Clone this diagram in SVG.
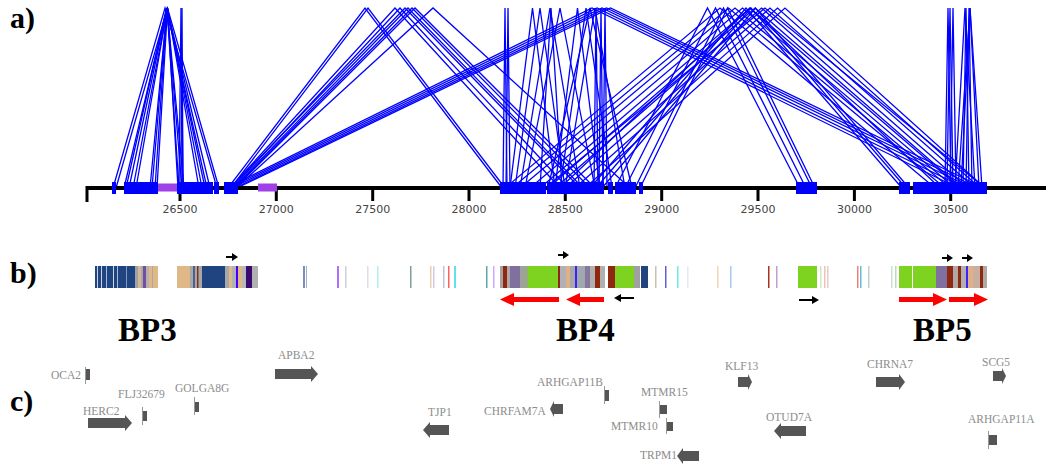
<svg xmlns="http://www.w3.org/2000/svg" width="1050" height="471" viewBox="0 0 1050 471">
<style>
.lbl{font-family:"Liberation Serif","Times New Roman",serif;font-weight:bold;font-size:30px;fill:#000}
.bp{font-family:"Liberation Serif","Times New Roman",serif;font-weight:bold;font-size:33px;fill:#000}
.tk{font-family:"DejaVu Sans",sans-serif;font-size:11px;fill:#444;text-anchor:middle}
.lk path{fill:none;stroke:#0000ff;stroke-width:1.3}
.blk{fill:#0000ff}
.pur{fill:#a040e8}
.gene{fill:#555}
.gl{stroke:#999;stroke-width:1}
.gt{font-family:"Liberation Serif","Times New Roman",serif;font-size:11.5px;fill:#8c8c8c}
.red{fill:#ff0000}
.blkarr{fill:#000}
</style>

<text class="lbl" x="10" y="28">a)</text>
<text class="lbl" x="10" y="283">b)</text>
<text class="lbl" x="10" y="411">c)</text>

<g id="links" class="lk">
<path d="M113 188L165 8L217 188"/>
<path d="M116 188L167.5 8L219 188"/>
<path d="M124 188L167 8L210 188"/>
<path d="M126 188L166.5 8L207 188"/>
<path d="M129 188L167 8L205 188"/>
<path d="M133 188L167.5 8L202 188"/>
<path d="M136 188L167.5 8L199 188"/>
<path d="M150 188L167 8L184 188"/>
<path d="M152 188L167 8L182 188"/>
<path d="M155 188L167 8L179 188"/>
<path d="M157 188L167.5 8L178 188"/>
<path d="M179 188L181 8L183 188"/>
<path d="M181 188L182 8L183 188"/>
<path d="M228 188L365 8L502 188"/>
<path d="M231 188L368 8L505 188"/>
<path d="M230 188L395 8L560 188"/>
<path d="M232 188L400 8L568 188"/>
<path d="M230 188L405 8L580 188"/>
<path d="M233 188L408 8L583 188"/>
<path d="M234 188L412 8L590 188"/>
<path d="M235 188L415 8L595 188"/>
<path d="M236 188L433 8L630 188"/>
<path d="M226 188L592 8L958 188"/>
<path d="M229 188L597 8L965 188"/>
<path d="M232 188L602 8L972 188"/>
<path d="M235 188L606.5 8L978 188"/>
<path d="M237 188L610.5 8L984 188"/>
<path d="M505 188L720 8L935 188"/>
<path d="M512 188L728.5 8L945 188"/>
<path d="M520 188L735 8L950 188"/>
<path d="M530 188L742.5 8L955 188"/>
<path d="M540 188L750 8L960 188"/>
<path d="M548 188L755 8L962 188"/>
<path d="M555 188L761.5 8L968 188"/>
<path d="M565 188L770 8L975 188"/>
<path d="M575 188L777.5 8L980 188"/>
<path d="M585 188L785 8L985 188"/>
<path d="M545 188L765 8L985 188"/>
<path d="M560 188L750 8L940 188"/>
<path d="M590 188L746 8L902 188"/>
<path d="M596 188L751 8L906 188"/>
<path d="M602 188L755.5 8L909 188"/>
<path d="M615 188L707.5 8L800 188"/>
<path d="M625 188L715.5 8L806 188"/>
<path d="M635 188L723.5 8L812 188"/>
<path d="M640 188L727.5 8L815 188"/>
<path d="M503 188L505 8L507 188"/>
<path d="M506 188L508 8L510 188"/>
<path d="M510 188L532.5 8L555 188"/>
<path d="M515 188L540 8L565 188"/>
<path d="M520 188L550 8L580 188"/>
<path d="M525 188L560 8L595 188"/>
<path d="M540 188L551 8L562 188"/>
<path d="M555 188L577.5 8L600 188"/>
<path d="M560 188L586 8L612 188"/>
<path d="M565 188L595 8L625 188"/>
<path d="M594 188L596 8L598 188"/>
<path d="M599 188L601 8L603 188"/>
<path d="M603 188L605 8L607 188"/>
<path d="M548 188L590 8L632 188"/>
<path d="M945 188L948 8L951 188"/>
<path d="M947 188L950 8L953 188"/>
<path d="M950 188L953 8L956 188"/>
<path d="M955 188L965 8L975 188"/>
<path d="M958 188L970 8L982 188"/>
<path d="M961 188L970 8L979 188"/>
<path d="M963 188L966 8L969 188"/>
<path d="M966 188L969 8L972 188"/>
</g>

<g id="axis">
<path d="M87 188H1046" stroke="#000" stroke-width="4" fill="none"/>
<path d="M87 186V202M180 188V201M276.3 188V201M372.7 188V201M469 188V201M565.3 188V201M661.7 188V201M758 188V201M854.4 188V201M950.7 188V201" stroke="#000" stroke-width="3" fill="none"/>
<text class="tk" x="180" y="213">26500</text>
<text class="tk" x="276.3" y="213">27000</text>
<text class="tk" x="372.7" y="213">27500</text>
<text class="tk" x="469" y="213">28000</text>
<text class="tk" x="565.3" y="213">28500</text>
<text class="tk" x="661.7" y="213">29000</text>
<text class="tk" x="758" y="213">29500</text>
<text class="tk" x="854.4" y="213">30000</text>
<text class="tk" x="950.7" y="213">30500</text>
</g>

<g id="blocks">
<rect class="blk" x="112" y="182" width="4" height="12"/>
<rect class="blk" x="124" y="182" width="34" height="12"/>
<rect class="pur" x="158" y="183.5" width="19" height="8"/>
<rect class="blk" x="177" y="182" width="31" height="12"/>
<rect class="blk" x="208" y="182" width="5" height="12"/>
<rect class="blk" x="214" y="182" width="5" height="12"/>
<rect class="blk" x="224" y="182" width="14" height="12"/>
<rect class="pur" x="258" y="183.5" width="19" height="8"/>
<rect class="blk" x="500" y="182" width="46" height="12"/>
<rect class="blk" x="547" y="182" width="57" height="12"/>
<rect class="blk" x="608" y="182" width="5" height="12"/>
<rect class="blk" x="615" y="182" width="21" height="12"/>
<rect class="blk" x="639" y="182" width="4" height="12"/>
<rect class="blk" x="796" y="182" width="21" height="12"/>
<rect class="blk" x="899" y="182" width="11" height="12"/>
<rect class="blk" x="913" y="182" width="74" height="12"/>
</g>

<g id="bars">
<rect x="95" y="266" width="40" height="22" fill="#1f4480"/>
<rect x="97" y="266" width="1" height="22" fill="#c8d4e8"/>
<rect x="101" y="266" width="1" height="22" fill="#c8d4e8"/>
<rect x="106" y="266" width="1" height="22" fill="#a8b8d8"/>
<rect x="113" y="266" width="1" height="22" fill="#c8d4e8"/>
<rect x="117" y="266" width="1" height="22" fill="#a8b8d8"/>
<rect x="126" y="266" width="1" height="22" fill="#8098c0"/>
<rect x="135" y="266" width="3" height="22" fill="#a0a0a8"/>
<rect x="138" y="266" width="3" height="22" fill="#d8b890"/>
<rect x="141" y="266" width="2" height="22" fill="#a8a8a8"/>
<rect x="143" y="266" width="3" height="22" fill="#7050a0"/>
<rect x="146" y="266" width="3" height="22" fill="#b8b0b0"/>
<rect x="149" y="266" width="9" height="22" fill="#e0b888"/>
<rect x="152" y="266" width="1" height="22" fill="#b0a8a0"/>

<rect x="177" y="266" width="13" height="22" fill="#e0b888"/>
<rect x="190" y="266" width="12" height="22" fill="#a8a8a8"/>
<rect x="193" y="266" width="2" height="22" fill="#4a6090"/>
<rect x="197" y="266" width="1.5" height="22" fill="#8a2a20"/>
<rect x="202" y="266" width="23" height="22" fill="#1f4480"/>
<rect x="225" y="266" width="4" height="22" fill="#a8a8a8"/>
<rect x="229" y="266" width="3" height="22" fill="#e0b888"/>
<rect x="232" y="266" width="4" height="22" fill="#b0b0b8"/>
<rect x="236" y="266" width="2" height="22" fill="#4400ff"/>
<rect x="238" y="266" width="4" height="22" fill="#e0b888"/>
<rect x="242" y="266" width="4" height="22" fill="#b8b8b8"/>
<rect x="246" y="266" width="6" height="22" fill="#3a0a70"/>
<rect x="252" y="266" width="6" height="22" fill="#b0b0b0"/>

<rect x="303" y="266" width="2" height="22" fill="#7890b8"/>
<rect x="306" y="266" width="1" height="22" fill="#a0b0c8"/>
<rect x="337" y="266" width="2" height="22" fill="#b070ff"/>
<rect x="345" y="266" width="1.5" height="22" fill="#d0d0d8"/>
<rect x="367" y="266" width="1.5" height="22" fill="#d8e0e8"/>
<rect x="377" y="266" width="1.5" height="22" fill="#b0f0f0"/>
<rect x="410" y="266" width="1.5" height="22" fill="#80a090"/>
<rect x="430" y="266" width="1.5" height="22" fill="#e8d0b0"/>
<rect x="433" y="266" width="1.5" height="22" fill="#d8c8e0"/>
<rect x="443" y="266" width="1.5" height="22" fill="#c0c0e0"/>
<rect x="448" y="266" width="1.5" height="22" fill="#ff6060"/>
<rect x="454" y="266" width="2" height="22" fill="#60e0f0"/>
<rect x="486" y="266" width="1.5" height="22" fill="#60a8a8"/>
<rect x="493" y="266" width="1.5" height="22" fill="#d0a8ff"/>

<rect x="500" y="266" width="3" height="22" fill="#a8a0a0"/>
<rect x="503" y="266" width="4" height="22" fill="#902810"/>
<rect x="507" y="266" width="3" height="22" fill="#b0a8a8"/>
<rect x="510" y="266" width="10" height="22" fill="#8070a0"/>
<rect x="520" y="266" width="3" height="22" fill="#a0a0a0"/>
<rect x="523" y="266" width="5" height="22" fill="#98a888"/>
<rect x="528" y="266" width="30" height="22" fill="#7ed321"/>
<rect x="558" y="266" width="2" height="22" fill="#902810"/>
<rect x="560" y="266" width="6" height="22" fill="#b0b0b8"/>
<rect x="566" y="266" width="4" height="22" fill="#e0b088"/>
<rect x="570" y="266" width="5" height="22" fill="#a8a8a8"/>
<rect x="575" y="266" width="2" height="22" fill="#4020ff"/>
<rect x="577" y="266" width="8" height="22" fill="#a0a8b0"/>
<rect x="585" y="266" width="5" height="22" fill="#8878a0"/>
<rect x="590" y="266" width="5" height="22" fill="#b0b0b0"/>
<rect x="595" y="266" width="5" height="22" fill="#902810"/>
<rect x="600" y="266" width="5" height="22" fill="#b0b0b0"/>
<rect x="608" y="266" width="7" height="22" fill="#902810"/>
<rect x="615" y="266" width="19" height="22" fill="#7ed321"/>
<rect x="634" y="266" width="6" height="22" fill="#a0a0a0"/>
<rect x="641" y="266" width="7" height="22" fill="#1f4480"/>

<rect x="655" y="266" width="1.5" height="22" fill="#c8c0b0"/>
<rect x="665" y="266" width="1.5" height="22" fill="#6060d0"/>
<rect x="677" y="266" width="1.5" height="22" fill="#70e8f0"/>
<rect x="687" y="266" width="1.5" height="22" fill="#e8e8f0"/>
<rect x="717" y="266" width="1.5" height="22" fill="#f0d8b0"/>
<rect x="730" y="266" width="1.5" height="22" fill="#a8c8f0"/>
<rect x="768" y="266" width="1.5" height="22" fill="#b03020"/>
<rect x="776" y="266" width="1.5" height="22" fill="#c0a0d0"/>
<rect x="798" y="266" width="19" height="22" fill="#7ed321"/>
<rect x="820" y="266" width="1.5" height="22" fill="#d0e8c0"/>
<rect x="824" y="266" width="1.5" height="22" fill="#f0c0c0"/>
<rect x="827" y="266" width="1.5" height="22" fill="#e0d0c0"/>
<rect x="857" y="266" width="1.5" height="22" fill="#f08080"/>
<rect x="860" y="266" width="1.5" height="22" fill="#60c0d0"/>
<rect x="868" y="266" width="1.5" height="22" fill="#c0d0d0"/>
<rect x="891" y="266" width="1.5" height="22" fill="#d0e0d0"/>
<rect x="895" y="266" width="1.5" height="22" fill="#c0d8c0"/>

<rect x="899" y="266" width="13" height="22" fill="#7ed321"/>
<rect x="913" y="266" width="23" height="22" fill="#7ed321"/>
<rect x="936" y="266" width="11" height="22" fill="#8070a0"/>
<rect x="947" y="266" width="6" height="22" fill="#902810"/>
<rect x="953" y="266" width="5" height="22" fill="#b0a8a8"/>
<rect x="958" y="266" width="3" height="22" fill="#902810"/>
<rect x="961" y="266" width="5" height="22" fill="#b0b0b0"/>
<rect x="966" y="266" width="2" height="22" fill="#4020ff"/>
<rect x="968" y="266" width="5" height="22" fill="#e0b088"/>
<rect x="973" y="266" width="7" height="22" fill="#c8b0a0"/>
<rect x="980" y="266" width="3" height="22" fill="#902810"/>
<rect x="983" y="266" width="4" height="22" fill="#b0a8a8"/>
</g>

<g id="orient">
<path class="blkarr" d="M226 256H232V253L238 257L232 261V258H226Z"/>
<path class="blkarr" d="M558 254H563V251L569 255L563 259V256H558Z"/>
<path class="blkarr" d="M942 257H947V254L953 258L947 262V259H942Z"/>
<path class="blkarr" d="M962 257H967V254L973 258L967 262V259H962Z"/>
<path class="blkarr" d="M614 298L621 294V297H634V299H621V302Z"/>
<path class="blkarr" d="M819 300L812 296V299H799V301H812V304Z"/>
<path class="red" d="M500 299.5L514 293V297H559V302H514V306Z"/>
<path class="red" d="M566 299.5L580 293V297H604V302H580V306Z"/>
<path class="red" d="M947 299.5L933 293V297H899V302H933V306Z"/>
<path class="red" d="M988 299.5L974 293V297H949V302H974V306Z"/>
</g>

<text class="bp" x="118" y="341">BP3</text>
<text class="bp" x="556" y="341">BP4</text>
<text class="bp" x="913" y="341">BP5</text>

<g id="gene-OCA2"><path class="gl" d="M85.5 367V384"/><rect class="gene" x="86" y="369" width="4" height="11"/><text class="gt" x="51" y="379">OCA2</text></g>
<g id="gene-APBA2"><path class="gene" d="M275 369H311V366L318 374L311 382V379H275Z"/><text class="gt" x="278" y="359">APBA2</text></g>
<g id="gene-GOLGA8G"><path class="gl" d="M194.5 397V415"/><rect class="gene" x="195" y="402" width="4" height="10"/><text class="gt" x="175" y="392">GOLGA8G</text></g>
<g id="gene-FLJ32679"><path class="gl" d="M142.5 407V425"/><rect class="gene" x="143" y="411" width="4" height="10"/><text class="gt" x="118" y="398">FLJ32679</text></g>
<g id="gene-HERC2"><path class="gene" d="M88 418H125V415L132 423L125 431V428H88Z"/><text class="gt" x="83" y="415">HERC2</text></g>
<g id="gene-ARHGAP11B"><path class="gl" d="M604.5 386V404"/><rect class="gene" x="605" y="390" width="4" height="11"/><text class="gt" x="537" y="386">ARHGAP11B</text></g>
<g id="gene-KLF13"><path class="gene" d="M738 377H748V374L752 382L748 390V387H738Z"/><text class="gt" x="725" y="370">KLF13</text></g>
<g id="gene-MTMR15"><path class="gl" d="M659.5 401V418"/><rect class="gene" x="660" y="405" width="7" height="9"/><text class="gt" x="641" y="396">MTMR15</text></g>
<g id="gene-CHRFAM7A"><path class="gene" d="M550 409L554 401V404H563V414H554V417Z"/><text class="gt" x="484" y="415">CHRFAM7A</text></g>
<g id="gene-TJP1"><path class="gene" d="M423 430L430 422V425H449V435H430V438Z"/><text class="gt" x="428" y="416">TJP1</text></g>
<g id="gene-MTMR10"><path class="gl" d="M666.5 418V434"/><rect class="gene" x="667" y="422" width="6" height="9"/><text class="gt" x="611" y="430">MTMR10</text></g>
<g id="gene-TRPM1"><path class="gene" d="M677 456L683 448V451H699V461H683V464Z"/><text class="gt" x="640" y="459">TRPM1</text></g>
<g id="gene-OTUD7A"><path class="gene" d="M774 431L781 423V426H806V436H781V439Z"/><text class="gt" x="766" y="421">OTUD7A</text></g>
<g id="gene-CHRNA7"><path class="gene" d="M876 377H899V374L905 382L899 390V387H876Z"/><text class="gt" x="867" y="368">CHRNA7</text></g>
<g id="gene-SCG5"><path class="gene" d="M993 371H1002V368L1006 376L1002 384V381H993Z"/><text class="gt" x="982" y="366">SCG5</text></g>
<g id="gene-ARHGAP11A"><path class="gl" d="M988.5 431V449"/><rect class="gene" x="989" y="435" width="8" height="10"/><text class="gt" x="968" y="423">ARHGAP11A</text></g>
</svg>
